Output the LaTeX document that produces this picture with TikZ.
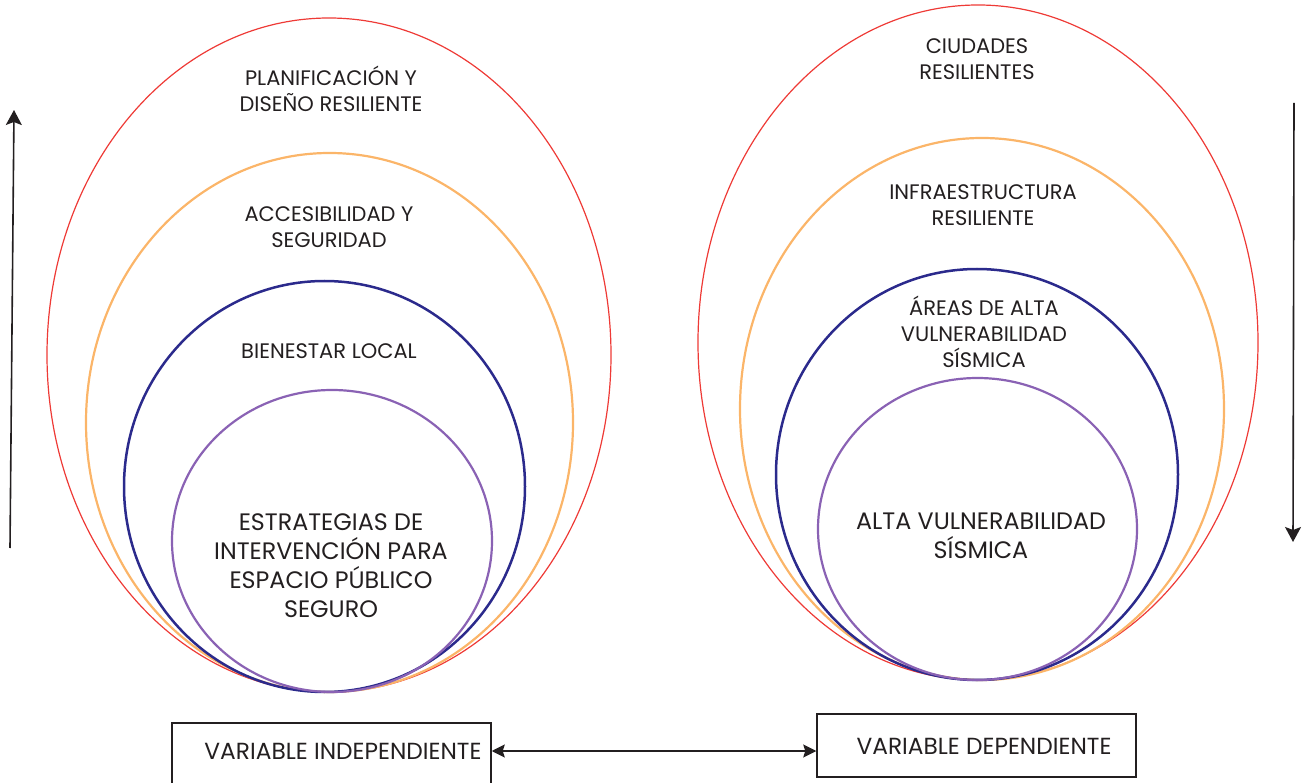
\documentclass[tikz,border=0pt]{standalone}
\usepackage{fontspec}
\setmainfont{Poppins}
\usetikzlibrary{shapes.geometric,arrows.meta}
\definecolor{cred}{HTML}{EE3A36}
\definecolor{corange}{HTML}{FBB569}
\definecolor{cnavy}{HTML}{2B2A8C}
\definecolor{cpurple}{HTML}{8A62B4}
\definecolor{cink}{HTML}{231F20}
\tikzset{
  ring/.style={ellipse, draw, inner sep=0pt, outer sep=0pt},
  ringred/.style={ring, draw=cred, line width=1.2pt},
  ringorange/.style={ring, draw=corange, line width=2.2pt},
  ringnavy/.style={ring, draw=cnavy, line width=2.5pt},
  ringpurple/.style={ring, draw=cpurple, line width=2.2pt},
  lbl/.style={align=center, text=cink, inner sep=0pt, font=\fontsize{21}{26}\selectfont},
  biglbl/.style={align=center, text=cink, inner sep=0pt, font=\fontsize{23.8}{29}\selectfont},
  boxlbl/.style={align=center, text=cink, inner sep=0pt, font=\fontsize{23.3}{28}\selectfont},
  varbox/.style={draw=cink, line width=1.5pt, minimum width=319pt, inner sep=0pt},
  bigarrow/.style={draw=cink, line width=1.6pt, -{Stealth[length=15pt,width=16pt,inset=3pt]}},
  dblarrow/.style={draw=cink, line width=1.3pt, {Stealth[length=13pt,width=13pt,inset=2pt]}-{Stealth[length=13pt,width=13pt,inset=2pt]}}
}
\begin{document}
\begin{tikzpicture}[x=1pt,y=-1pt]
\useasboundingbox (0,0) rectangle (1302,783);
\clip (0,0) rectangle (1302,783);

% left rings
\node[ringred, minimum width=564pt, minimum height=674pt] (L1) at (329,355) {};
\node[ringorange, minimum width=487pt, minimum height=539pt] (L2) at (329.5,422.5) {};
\node[ringnavy, minimum width=401pt, minimum height=411pt] (L3) at (324.5,486.5) {};
\node[ringpurple, minimum width=320pt, minimum height=302pt] (L4) at (332,541) {};

% right rings
\node[ringred, minimum width=560pt, minimum height=675pt] (R1) at (978,342.5) {};
\node[ringorange, minimum width=484pt, minimum height=542pt] (R2) at (982,409) {};
\node[ringnavy, minimum width=402pt, minimum height=411pt] (R3) at (977,474.5) {};
\node[ringpurple, minimum width=319pt, minimum height=302pt] (R4) at (977.5,529) {};

% left labels
\node[lbl] (tL1) at (331,89) {PLANIFICACIÓN Y\\DISEÑO RESILIENTE};
\node[lbl] (tL2) at (329,227) {ACCESIBILIDAD Y\\SEGURIDAD};
\node[lbl] (tL3) at (329,351) {BIENESTAR LOCAL};
\node[biglbl] (tL4) at (331,566) {ESTRATEGIAS DE\\INTERVENCIÓN PARA\\ESPACIO PÚBLICO\\SEGURO};

% right labels
\node[lbl] (tR1) at (977,59) {CIUDADES\\RESILIENTES};
\node[lbl] (tR2) at (983,205) {INFRAESTRUCTURA\\RESILIENTE};
\node[lbl] (tR3) at (984,332) {ÁREAS DE ALTA\\VULNERABILIDAD\\SÍSMICA};
\node[biglbl] (tR4) at (981,536) {ALTA VULNERABILIDAD\\SÍSMICA};

% side arrows
\coordinate (la1) at (10,548);
\coordinate (la2) at (14,110);
\coordinate (ra1) at (1294,103);
\coordinate (ra2) at (1293,542);
\draw[bigarrow] (la1) -- (la2);
\draw[bigarrow] (ra1) -- (ra2);

% variable boxes
\node[varbox, minimum height=68pt] (vi) at (331.5,757) {};
\node[varbox, minimum height=63pt] (vd) at (976.5,745.5) {};
\node[boxlbl] (vit) at (343,751) {VARIABLE INDEPENDIENTE};
\node[boxlbl] (vdt) at (984,746) {VARIABLE DEPENDIENTE};
\coordinate (arry) at (0,751);
\draw[dblarrow] (vi.east |- arry) -- (vd.west |- arry);
\end{tikzpicture}
\end{document}
